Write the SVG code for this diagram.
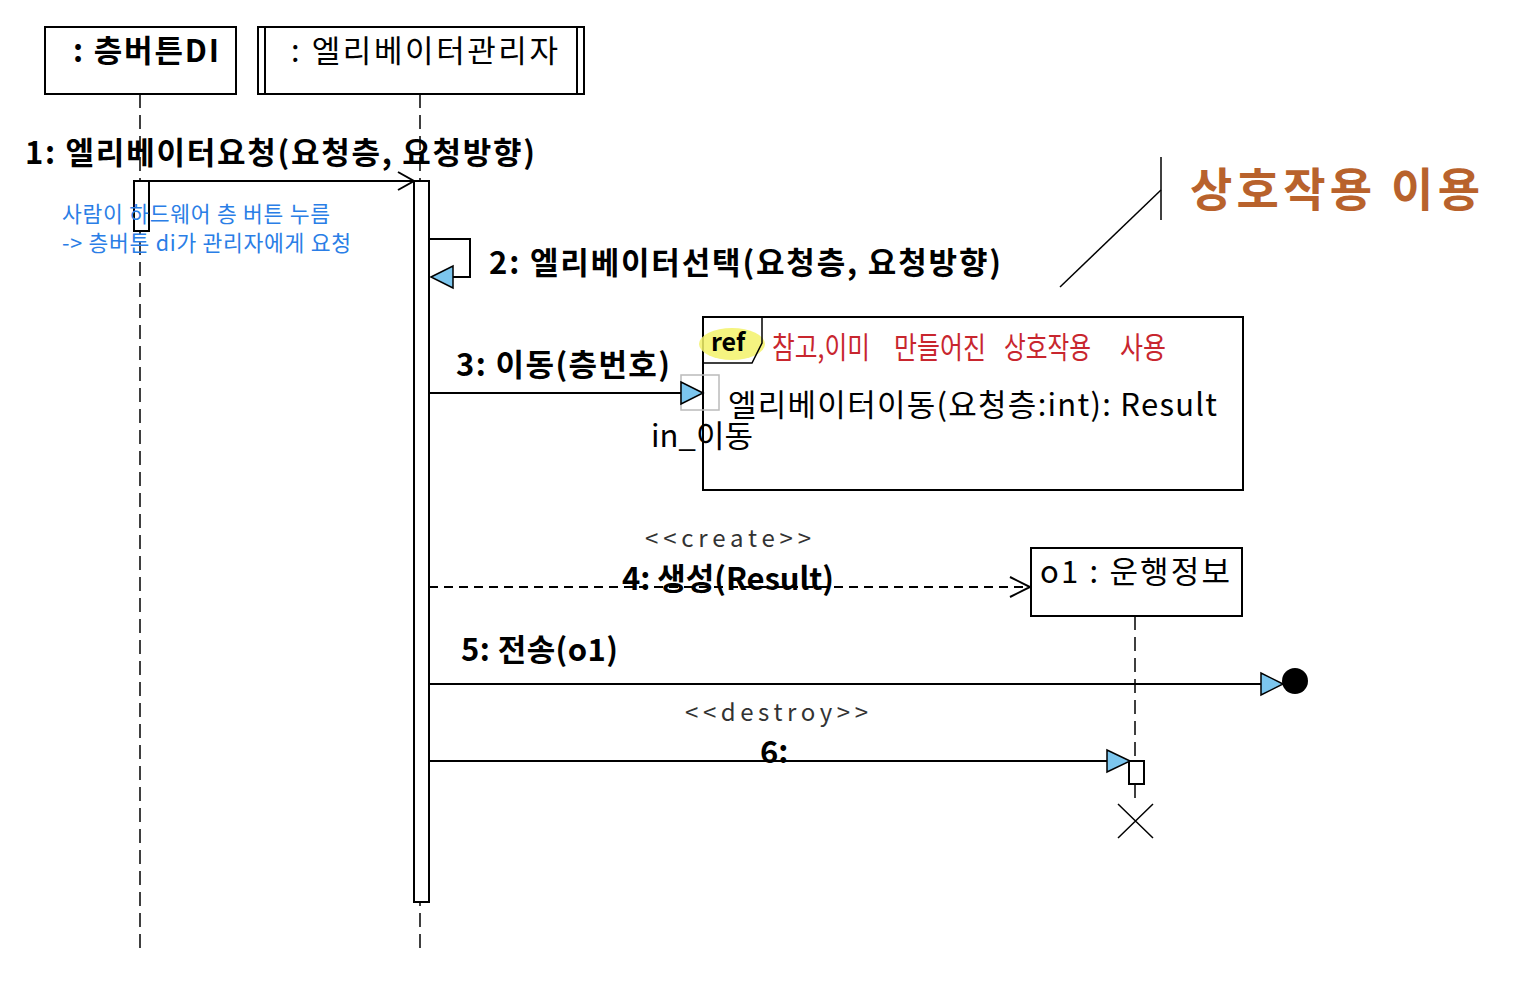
<svg xmlns="http://www.w3.org/2000/svg" width="1516" height="1000" viewBox="0 0 1516 1000">
<defs>
<style>
.box{fill:#fff;stroke:#000;stroke-width:2}
.life{stroke:#000;stroke-width:1.5;stroke-dasharray:14 7;fill:none}
.msg{stroke:#000;stroke-width:2;fill:none}
.tri{fill:#7cc6ee;stroke:#000;stroke-width:1.5}
.t{font-family:"Noto Sans CJK KR","Noto Sans",sans-serif;fill:#000}
.lb{font-size:31px;font-weight:bold}
.nt{font-size:31px}
.st{font-size:24px;fill:#333}
.blue{font-size:21.5px;fill:#2a7ee6}
.red{font-family:"Noto Sans CJK KR",sans-serif;font-size:30px;fill:#c8262e}
</style>
</defs>
<rect width="1516" height="1000" fill="#fff"/>

<g id="lifeline-button">
<rect class="box" x="45" y="27" width="191" height="67"/>
<text class="t nt" x="73" y="62" textLength="146" font-weight="bold">: 층버튼DI</text>
<line class="life" x1="140" y1="94" x2="140" y2="955"/>
<rect class="box" x="134" y="181" width="15" height="50"/>
</g>

<g id="lifeline-manager">
<rect class="box" x="258" y="27" width="326" height="67"/>
<line stroke="#000" stroke-width="2" x1="265" y1="27" x2="265" y2="94"/>
<line stroke="#000" stroke-width="2" x1="577" y1="27" x2="577" y2="94"/>
<text class="t nt" x="291" y="62" textLength="267">: 엘리베이터관리자</text>
<line class="life" x1="420" y1="94" x2="420" y2="955"/>
<rect class="box" x="414" y="181" width="15" height="721"/>
</g>

<g id="note-blue">
<text class="t blue" x="62" y="222" textLength="268">사람이 하드웨어 층 버튼 누름</text>
<text class="t blue" x="62" y="251" textLength="289">-&gt; 층버튼 di가 관리자에게 요청</text>
</g>

<g id="ref-frame">
<rect class="box" x="703" y="317" width="540" height="173" fill="none"/>
<ellipse cx="732" cy="344" rx="33" ry="16" fill="#f3f26a" opacity="0.85"/>
<path d="M703 363 L752 363 L762 343 L762 317" fill="none" stroke="#000" stroke-width="1.5"/>
<text class="t" x="711" y="351" font-size="25" font-weight="bold">ref</text>
<text class="t nt" x="728" y="416" textLength="489">엘리베이터이동(요청층:int): Result</text>
<text class="red" x="772" y="358" textLength="98" lengthAdjust="spacingAndGlyphs">참고,이미</text>
<text class="red" x="894" y="358" textLength="92" lengthAdjust="spacingAndGlyphs">만들어진</text>
<text class="red" x="1004" y="358" textLength="87" lengthAdjust="spacingAndGlyphs">상호작용</text>
<text class="red" x="1120" y="358" textLength="46" lengthAdjust="spacingAndGlyphs">사용</text>
<rect x="681" y="375" width="38" height="35" fill="none" stroke="#bbb" stroke-width="1.5"/>
<text class="t nt" x="651" y="447" textLength="102">in_이동</text>
</g>

<g id="lifeline-o1">
<rect class="box" x="1031" y="548" width="211" height="68"/>
<text class="t nt" x="1040" y="583" textLength="190">o1 : 운행정보</text>
<line class="life" x1="1135" y1="616" x2="1135" y2="805"/>
<rect class="box" x="1129" y="761" width="15" height="23"/>
<path d="M1118 804 L1153 838 M1153 804 L1118 838" stroke="#000" stroke-width="1.5"/>
</g>

<g id="annotation">
<line x1="1161" y1="157" x2="1161" y2="220" stroke="#000" stroke-width="1.5"/>
<line x1="1161" y1="190" x2="1060" y2="287" stroke="#000" stroke-width="1.5"/>
<text x="1190" y="206" font-family="'Noto Sans CJK KR',sans-serif" font-size="46" font-weight="bold" fill="#b8622c" textLength="290">상호작용 이용</text>
</g>

<g id="connectors">
<line class="msg" x1="149" y1="181" x2="414" y2="181"/>
<path class="msg" d="M398 172 L414 181 L398 190"/>
<text class="t lb" x="25" y="164" textLength="510">1: 엘리베이터요청(요청층, 요청방향)</text>

<path class="msg" d="M429 239 L470 239 L470 277 L452 277"/>
<path class="tri" d="M431 277 L453 266 L453 288 Z"/>
<text class="t lb" x="489" y="274" textLength="512">2: 엘리베이터선택(요청층, 요청방향)</text>

<line class="msg" x1="429" y1="393" x2="681" y2="393"/>
<path class="tri" d="M703 393 L681 382 L681 404 Z"/>
<text class="t lb" x="456" y="376" textLength="214">3: 이동(층번호)</text>

<line class="msg" x1="429" y1="587" x2="1030" y2="587" stroke-dasharray="9 6" stroke-width="1.5"/>
<path class="msg" d="M1010 577 L1030 587 L1010 597" stroke-width="1.5"/>
<text class="t st" x="645" y="547" textLength="166">&lt;&lt;create&gt;&gt;</text>
<text class="t lb" x="622" y="590" textLength="212">4: 생성(Result)</text>

<line class="msg" x1="429" y1="684" x2="1261" y2="684"/>
<path class="tri" d="M1283 684 L1261 673 L1261 695 Z"/>
<circle cx="1295" cy="681" r="13" fill="#000"/>
<text class="t lb" x="461" y="661" textLength="157">5: 전송(o1)</text>

<line class="msg" x1="429" y1="761" x2="1107" y2="761"/>
<path class="tri" d="M1130 761 L1107 750 L1107 772 Z"/>
<text class="t st" x="685" y="721" textLength="183">&lt;&lt;destroy&gt;&gt;</text>
<text class="t lb" x="760" y="763">6:</text>
</g>
</svg>
